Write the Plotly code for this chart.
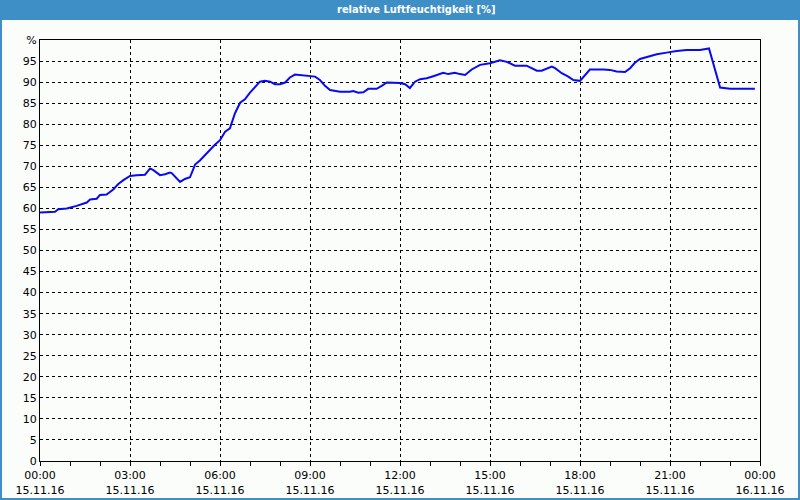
import plotly.graph_objects as go

# --- data ---
hours = [0, 0.5, 0.61, 0.89, 1.22, 1.56, 1.67, 1.89, 2.0, 2.22, 2.44, 2.61, 2.78, 3.0, 3.22, 3.5,
         3.67, 3.78, 4.0, 4.17, 4.33, 4.39, 4.67, 4.83, 5.0, 5.17, 5.33, 5.67, 5.83, 6.0, 6.17,
         6.33, 6.5, 6.67, 6.83, 7.0, 7.17, 7.33, 7.5, 7.67, 7.83, 8.0, 8.17, 8.33, 8.5, 8.67,
         8.83, 9.0, 9.17, 9.33, 9.5, 9.67, 9.83, 10.0, 10.33, 10.44, 10.61, 10.78, 10.94, 11.22,
         11.39, 11.56, 12.0, 12.17, 12.33, 12.5, 12.67, 12.89, 13.11, 13.44, 13.61, 13.83, 14.0,
         14.17, 14.39, 14.67, 15.0, 15.33, 15.56, 15.83, 16.22, 16.33, 16.56, 16.72, 16.89,
         17.06, 17.17, 17.39, 17.61, 17.78, 18.0, 18.17, 18.33, 18.78, 19.0, 19.22, 19.5, 19.67,
         19.83, 20.0, 20.22, 20.56, 20.89, 21.22, 21.56, 22.0, 22.3, 22.67, 23.0, 23.83]
humidity = [59.0, 59.2, 59.8, 60.0, 60.6, 61.4, 62.1, 62.3, 63.2, 63.3, 64.5, 65.8, 66.7, 67.7,
            67.9, 68.0, 69.5, 69.1, 67.9, 68.1, 68.5, 68.4, 66.3, 67.0, 67.4, 70.4, 71.4, 74.0,
            75.1, 76.2, 78.2, 79.0, 82.6, 85.1, 85.9, 87.5, 88.9, 90.1, 90.3, 90.1, 89.5, 89.5,
            89.9, 91.1, 91.8, 91.7, 91.6, 91.5, 91.3, 90.5, 89.1, 88.1, 87.9, 87.7, 87.7, 87.9,
            87.5, 87.6, 88.4, 88.4, 89.1, 89.9, 89.8, 89.5, 88.6, 90.1, 90.7, 90.9, 91.4, 92.2,
            91.9, 92.2, 91.9, 91.7, 93.0, 94.1, 94.5, 95.2, 94.8, 93.9, 93.9, 93.5, 92.7, 92.7,
            93.2, 93.7, 93.3, 92.1, 91.3, 90.5, 90.3, 91.7, 93.0, 93.0, 92.9, 92.5, 92.4, 93.3,
            94.6, 95.5, 96.0, 96.6, 97.0, 97.4, 97.6, 97.6, 98.0, 88.7, 88.4, 88.4]

x_tickvals = [0, 3, 6, 9, 12, 15, 18, 21, 24]
x_ticktext = ["00:00<br>15.11.16", "03:00<br>15.11.16", "06:00<br>15.11.16", "09:00<br>15.11.16",
              "12:00<br>15.11.16", "15:00<br>15.11.16", "18:00<br>15.11.16", "21:00<br>15.11.16",
              "00:00<br>16.11.16"]
y_tickvals = list(range(0, 101, 5))
y_ticktext = [str(v) for v in range(0, 100, 5)] + ["%"]
title = "relative Luftfeuchtigkeit [%]"

W, H = 800, 500
L, R, T, B = 40, 40, 40, 39
pw, ph = W - L - R, H - T - B

def px(x):
    return (x - L) / pw

def py(y):
    return (H - B - y) / ph

BLUE = "#3d8fc6"
BG = "#fbfdfb"

fig = go.Figure()
fig.add_trace(go.Scatter(x=hours, y=humidity, mode="lines",
                         line=dict(color="#0a0af0", width=2), showlegend=False))

grid = dict(showgrid=True, gridcolor="black", gridwidth=1, griddash="3px,3px")
fig.update_xaxes(range=[0, 24], tickvals=x_tickvals, ticktext=x_ticktext, **grid,
                 showline=True, linecolor="black", linewidth=1, mirror=True,
                 ticks="outside", ticklen=4, tickcolor="black", zeroline=False, automargin=False,
                 minor=dict(dtick=1, ticks="outside", ticklen=4, tickcolor="black", showgrid=False),
                 tickfont=dict(family="DejaVu Sans", size=11, color="black"))
fig.update_yaxes(range=[0, 100], tickvals=y_tickvals, ticktext=y_ticktext, **grid,
                 showline=True, linecolor="black", linewidth=1, mirror=True,
                 ticks="", zeroline=False, automargin=False,
                 tickfont=dict(family="DejaVu Sans", size=11, color="black"))

shapes = [
    dict(type="rect", xref="paper", yref="paper", x0=px(0), x1=px(W), y0=py(20), y1=py(0),
         fillcolor=BLUE, line=dict(width=0), layer="above"),
    dict(type="rect", xref="paper", yref="paper", x0=px(0), x1=px(2), y0=py(H), y1=py(0),
         fillcolor=BLUE, line=dict(width=0), layer="above"),
    dict(type="rect", xref="paper", yref="paper", x0=px(W - 2), x1=px(W), y0=py(H), y1=py(0),
         fillcolor=BLUE, line=dict(width=0), layer="above"),
    dict(type="rect", xref="paper", yref="paper", x0=px(0), x1=px(W), y0=py(H), y1=py(H - 2),
         fillcolor=BLUE, line=dict(width=0), layer="above"),
]
fig.update_layout(
    width=W, height=H, margin=dict(l=L, r=R, t=T, b=B, autoexpand=False),
    paper_bgcolor=BG, plot_bgcolor=BG, shapes=shapes,
    annotations=[dict(text="<b>" + title + "</b>", xref="paper", yref="paper",
                      x=px(416), y=py(10), xanchor="center", yanchor="middle",
                      showarrow=False,
                      font=dict(family="DejaVu Sans Condensed", size=11, color="white"))],
)
fig.write_html("out.html")
